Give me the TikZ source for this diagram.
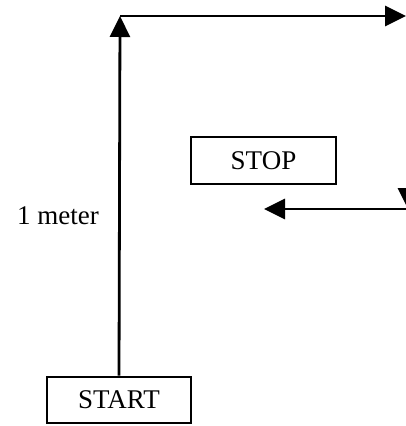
\documentclass[tikz,border=0pt]{standalone}
\usepackage{fontspec}
\setmainfont{Liberation Serif}
\usetikzlibrary{arrows.meta}
\tikzset{
  box/.style={draw, line width=2.8pt, inner sep=0pt, font=\fontsize{27}{32}\selectfont},
  conn/.style={line width=2.8pt, -{Triangle[length=21pt,width=20pt]}},
  lbl/.style={font=\fontsize{27}{32}\selectfont, inner sep=0pt}
}
\begin{document}
\begin{tikzpicture}[x=1pt,y=-1pt]
\useasboundingbox (0,0) rectangle (406,426);
\node[box, minimum width=144pt, minimum height=46pt] (start) at (119,400) {START};
\node[box, minimum width=145pt, minimum height=47pt] (stop) at (263.5,160.5) {STOP};
\node[lbl] (meter) at (58,216) {1 meter};
\coordinate (corner) at (120,16);
\coordinate (topend) at (406,16);
\coordinate (rtop) at (408,60);
\coordinate (rbend) at (408,209);
\coordinate (leftend) at (264,209);
\draw[conn] (start.north) -- (corner);
\draw[conn] (corner) -- (topend);
\draw[conn] (rtop) -- (rbend);
\draw[conn] (rbend) -- (leftend);
\end{tikzpicture}
\end{document}
